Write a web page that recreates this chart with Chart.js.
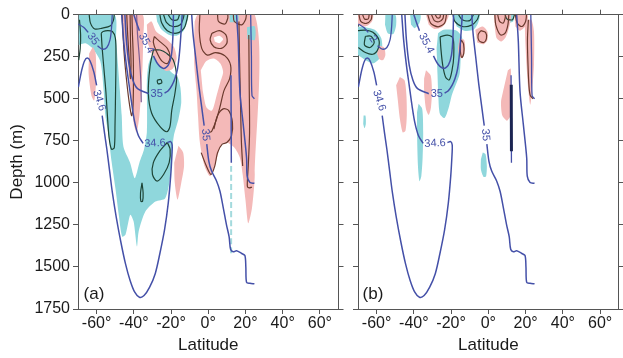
<!DOCTYPE html>
<html><head><meta charset="utf-8">
<script src="https://cdn.jsdelivr.net/npm/chart.js@4.4.1/dist/chart.umd.min.js"></script>
<style>
html,body{margin:0;padding:0;background:#fff;}
#wrap{position:relative;width:623px;height:358px;overflow:hidden;background:#fff;}
#ca{position:absolute;left:0;top:0;width:345px;height:358px;}
#cb{position:absolute;left:345px;top:0;width:278px;height:358px;}
</style></head><body>
<div id="wrap"><canvas id="ca" width="345" height="358"></canvas><canvas id="cb" width="278" height="358"></canvas></div>
<script>
// ---------- axes ----------
const X_TICKS = [-60, -40, -20, 0, 20, 40, 60];
const Y_TICKS = [0, 250, 500, 750, 1000, 1250, 1500, 1750];

// ---------- mean salinity contours (shared by both panels): [latitude, depth] ----------
const BLUE_346 = [[-69.8,430],[-68,330],[-66.5,275],[-65,258],[-63.5,275],[-61.5,340],[-60,420], null,
  [-57,600],[-55.8,700],[-54.5,800],[-53,930],[-51.5,1060],[-49.5,1200],[-47,1350],[-44.5,1480],[-42,1580],[-39.5,1650],[-37,1680],[-34.5,1670],[-31.5,1620],[-28.5,1540],[-26,1420],[-23.5,1280],[-21.5,1120],[-20.2,960],[-19.5,830],[-19.4,775],[-20.2,755],[-22,760], null,
  [-35,765],[-37.5,720],[-39.5,640],[-41,540],[-42.5,420],[-44,300],[-45.5,150],[-46.5,0]];
const BLUE_35L = [[-44.8,0],[-44,150],[-42.5,300],[-40.5,390],[-38,440],[-32,470], null,
  [-23.5,466],[-21.5,452],[-19.5,420],[-17.9,380],[-16.5,320],[-15.4,220],[-14.6,100],[-14,0]];
const BLUE_354 = [[-40,0],[-38.8,40],[-37,95], null,
  [-29.5,245],[-27,295],[-24,320],[-21.5,300],[-19.8,240],[-19,130],[-18.7,0]];
const BLUE_352 = [[-69.8,55],[-67,75],[-64.5,105], null,
  [-59.5,185],[-57,205],[-54.5,195],[-52.8,150],[-52,80],[-51.6,0]];
const BLUE_35R = [[-8.9,0],[-8.2,111],[-6.8,250],[-5.2,408],[-3.4,560],[-2.2,660], null,
  [-0.8,770],[0.3,870],[1.8,930],[4.5,990],[6.3,1050],[8.1,1150],[9.8,1250],[11.2,1320],[12,1395],[13.4,1410],[15.2,1404],[18,1420],[19.7,1432],[20.2,1500],[20.6,1592],[22.4,1597],[24.8,1600]];
const BLUE_20 = [[15.2,0],[16.1,160],[17,456],[18.8,654],[20.6,852],[20.9,960],[22.4,998],[24.8,1002]];
const BLUE_23 = [[22.8,0],[23.2,250],[23.5,480],[24.8,500]];
const BLUE_12 = [[12.2,360],[12.3,600],[12.4,880]];

// ---------- panel (a) anomaly patches ----------
const A_CYAN_MAIN = [[-69.6,0],[-50.5,0],[-49.5,150],[-48.5,300],[-47.5,450],[-46.5,600],[-45.6,784],[-42,880],[-39.5,972],[-37,880],[-34.5,800],[-33,700],[-32.9,550],[-33,400],[-32.2,300],[-30.5,250],[-27.5,245],[-24,290],[-20,340],[-16.5,370],[-15,430],[-14.5,520],[-16,620],[-18.5,720],[-19.5,834],[-20.4,960],[-23.1,1091],[-28.4,1111],[-33.8,1170],[-37.4,1289],[-38.3,1378],[-40.1,1230],[-41.9,1190],[-44.5,1309],[-46.3,1319],[-48.1,1190],[-49.9,1032],[-52,870],[-53.8,700],[-55.3,600],[-56.2,455],[-58,277],[-62.4,198],[-66,170],[-69.6,180]];
const A_PINK_STRIP = [[-46.3,0],[-35.3,0],[-35,150],[-35.3,300],[-36,450],[-37,600],[-38.5,700],[-40,650],[-41.3,500],[-43,320],[-45,160]];
const A_PINK_BLOB = [[-33,60],[-30.5,40],[-28,100],[-23,140],[-18.5,190],[-17,260],[-19,320],[-22.5,335],[-26.5,300],[-30,240],[-32.5,170]];
const A_PINK_LEFT = [[-62,190],[-60.5,230],[-60.3,400],[-61.3,510],[-62.8,480],[-64.3,350],[-64,230]];
const A_PINK_RIGHT = [[-7.3,40],[-5.5,0],[25,0],[25,950],[23.5,1150],[21.5,1240],[20,1100],[18.5,950],[17,850],[14,790],[10,760],[7,770],[4,880],[1,960],[-2,900],[-4.5,760],[-5.5,600],[-6.3,450],[-7.5,300],[-7.6,150]];
const A_PINK_SMALL = [[-16,780],[-13.5,820],[-13,900],[-14.5,1000],[-16.5,1100],[-18,1000],[-18.3,880]];
const A_CYAN_TOP = [[-28,0],[-11,0],[-11.5,50],[-13.5,100],[-17,125],[-21,120],[-25,90],[-27.5,40]];
const A_CYAN_BIT1 = [[11.5,0],[16,0],[16,40],[11.5,45]];
const A_CYAN_BIT2 = [[20.8,75],[25,70],[25,150],[21,145]];
const A_WHITE_1 = [[-4,330],[-1,275],[3,260],[6.5,290],[8,340],[6.5,400],[4.5,480],[2,570],[-1,550],[-3,450]];
const A_WHITE_2 = [[3,135],[6,125],[8,145],[6,170],[3.5,160]];
const A_DASH = [[12.3,900],[12.3,1430]];

// panel (a) anomaly contour lines
const G_A1 = [[-57.5,110],[-57,200],[-56,330],[-55,460],[-54.2,600],[-53.3,730],[-52,800],[-50.5,790],[-50.1,650],[-49.8,450],[-49.6,260],[-49.9,140],[-51.5,100],[-54,95],[-56.5,100],[-57.5,110]];
const G_A2 = [[-69.2,30],[-68.6,120],[-68.8,200],[-69.6,270]];
const G_A3 = [[-64,0],[-63.3,50],[-61,85],[-57,80],[-52.5,65],[-51,35],[-50.5,0]];
const G_A4 = [[-29.5,210],[-31.3,309],[-32.2,467],[-30.4,586],[-25.9,666],[-22.3,696],[-20.6,666],[-19.6,567],[-17.9,467],[-17,369],[-18.8,269],[-22.3,230],[-25.9,210],[-29.5,210]];
const G_A5 = [[-22,760],[-20.5,800],[-21,880],[-24,950],[-27.5,990],[-30,950],[-29.5,880],[-26,810],[-22,760]];
const G_A6 = [[-35.6,1000],[-35,1060],[-35.3,1110],[-36.2,1110],[-36.4,1060],[-35.6,1000]];
const G_A7 = [[-27.5,390],[-25.5,385],[-25,405],[-27,410],[-27.5,390]];
const G_A8 = [[-26,0],[-25,50],[-22,95],[-17,110],[-13,80],[-11.5,30],[-11,0]];
const G_A9 = [[-24,0],[-22.5,45],[-19,70],[-15,60],[-13.5,25],[-13,0]];
const G_A10 = [[-21.5,0],[-19.5,30],[-16.5,30],[-15.5,0]];
const BR_A1 = [[-46.3,0],[-45.8,120],[-45,260],[-43.8,400],[-42.5,520],[-41.2,600],[-40.5,560],[-40.2,420],[-40.3,250],[-40.8,100],[-41,0]];
const BR_A2 = [[-43.8,0],[-43.3,120],[-42.5,260],[-41.8,380],[-41.5,300],[-41.8,150],[-42,0]];
const PU_A1 = [[-38.5,0],[-38,120],[-37,260],[-36.2,400],[-36,520]];
const BR_A3 = [[-29,130],[-26,160],[-22,200],[-20.5,250],[-22,290],[-25,275],[-28,215],[-29.5,165],[-29,130]];
const BR_A4 = [[2,110],[6,95],[9.5,120],[10,170],[7,200],[3,190],[1,150],[2,110]];
const BR_A5 = [[-4.5,0],[-4.8,100],[-3.5,200],[-0.5,240],[4,225],[9,245],[12,300],[11.5,380],[8.5,450],[6.5,540],[4.5,620],[2,690],[1,700]];
const BR_A6 = [[-3.8,820],[-1,900],[1.5,950],[3.5,900],[5,820],[7.5,770],[10,760],[12.5,720],[13,640],[11,570],[8,560],[5,600],[3,680]];
const BR_A7 = [[16.5,40],[16.8,250],[17.3,500],[17.8,750],[18.5,900]];
const BR_A8 = [[21.8,120],[22,400],[22.2,700],[21.5,900],[21,1020],[22,1030],[23.5,1025]];
const BR_A9 = [[13.5,0],[14,40],[18,60],[20,30],[20.5,0]];
const BR_A10 = [[5,0],[5.5,40],[9,55],[10.5,20],[10.5,0]];

// ---------- panel (b) anomaly patches ----------
const B_CYAN_1 = [[-70,70],[-66,75],[-61,90],[-57.5,140],[-57,200],[-58.5,260],[-62,290],[-66,270],[-70,240]];
const B_CYAN_2 = [[-55.3,0],[-50,0],[-49.5,60],[-51,115],[-54,110],[-55.5,60]];
const B_CYAN_3 = [[-42,0],[-36.5,0],[-37,50],[-39.5,80],[-41.5,60]];
const B_CYAN_4 = [[-27,110],[-24,90],[-17,95],[-14,140],[-14.8,250],[-15.5,356],[-19.5,475],[-21.3,554],[-23.5,614],[-26,590],[-26.8,500],[-27.3,356],[-27.8,200]];
const B_CYAN_5 = [[-37.5,530],[-35.5,560],[-35,700],[-35.3,850],[-36,960],[-37,990],[-37.8,900],[-38.3,700],[-38.3,580]];
const B_CYAN_6 = [[-3,820],[-1.5,830],[-0.8,900],[-1.2,960],[-2.5,965],[-4,920],[-4,860]];
const B_CYAN_7 = [[-19,0],[-5,0],[-5.5,50],[-8,90],[-13,95],[-17,70]];
const B_CYAN_8 = [[-67,600],[-66,600],[-65.8,650],[-66.5,675],[-67.2,650]];
const B_CYAN_9 = [[10,0],[13.5,0],[13.3,40],[10.5,50]];
const B_PINK_1 = [[-70,0],[-62,0],[-62.5,40],[-65,65],[-68,70],[-70,55]];
const B_PINK_2 = [[-58.5,185],[-56,195],[-55.3,240],[-56.5,270],[-58.5,265],[-59.8,230]];
const B_PINK_3 = [[-47.5,370],[-45,390],[-44,480],[-43.8,600],[-44.5,690],[-46,700],[-47.5,620],[-48.7,500],[-49.5,420]];
const B_PINK_4 = [[-33.5,330],[-31,360],[-30.3,450],[-30.8,550],[-32,595],[-33.5,560],[-34.5,450],[-34.5,380]];
const B_PINK_5 = [[-33.5,0],[-21.5,0],[-22.5,40],[-25,75],[-29,85],[-32,60]];
const B_PINK_6 = [[-15.5,140],[-13,150],[-12.5,200],[-13.5,250],[-15.5,255],[-16.3,200]];
const B_PINK_7 = [[-7,90],[-3,70],[-0.5,100],[-0.5,150],[-2.5,175],[-6,165]];
const B_PINK_8 = [[3,0],[12,0],[11.5,60],[9.5,130],[7,160],[4.5,140],[3.5,80]];
const B_PINK_9 = [[10.5,330],[12,320],[12.2,450],[11.9,600],[10,630],[7.5,600],[6.8,520],[8,450]];
const B_PINK_10 = [[19.5,40],[23,30],[24.5,100],[24.5,300],[23.5,450],[22.5,535],[21.5,450],[20.5,300],[19.8,150]];
const B_PINK_11 = [[14,0],[21,0],[20.5,60],[17,95],[14.5,70]];

// panel (b) anomaly contour lines
const G_B1 = [[-70,95],[-66,92],[-62,105],[-58.8,150],[-59.3,205],[-62,235],[-66,225],[-69.8,195]];
const G_B2 = [[-66,128],[-63,128],[-61.3,165],[-63.5,195],[-66.5,180],[-66,128]];
const G_B3 = [[-25.9,131],[-22,122],[-19,140],[-18.6,250],[-19.5,330],[-21,388],[-23,370],[-24.5,300],[-25.5,200],[-25.9,131]];
const G_B4 = [[-19,0],[-18,40],[-14,70],[-9,62],[-6,30],[-5,0]];
const G_B5 = [[-16,0],[-14,30],[-10,35],[-8,0]];
const G_B6 = [[9,0],[10,25],[13,30],[14,0]];
const BR_B1 = [[-69.5,0],[-68.5,40],[-65.5,52],[-63,30],[-62.5,0]];
const BR_B2 = [[-67.5,0],[-66.5,25],[-64.5,25],[-64,0]];
const BR_B3 = [[-32.5,0],[-31,50],[-27,72],[-23.5,50],[-22.5,0]];
const BR_B4 = [[-30.5,0],[-29,35],[-26.5,42],[-24.5,25],[-24,0]];
const BR_B5 = [[-28.5,0],[-27.5,18],[-26,16],[-25.8,0]];
const BR_B6 = [[-14.5,150],[-13.3,175],[-13.2,230],[-14.2,255],[-15,220],[-15,170],[-14.5,150]];
const BR_B7 = [[-4,95],[-1.5,105],[-1,140],[-2.5,165],[-5,155],[-5.5,120],[-4,95]];
const BR_B8 = [[3.5,0],[4,60],[6.5,120],[9,110],[10.5,60],[11,0]];
const BR_B9 = [[5,0],[6,40],[8,50],[9,20],[9.2,0]];
const BR_B10 = [[21.5,30],[21,150],[21.3,300],[21.8,420],[22.5,480],[24,500]];
const BR_B11 = [[14.5,0],[15.5,50],[18,70],[20,40],[20.5,0]];
const DK_B = [[12.3,416],[12.4,812]];

// contour labels: [text, latitude, depth, rotation deg]
const LABELS_A = [['34.6',-58.6,510,72],['34.6',-28.6,765,-3],['35',-27.7,470,0],['35.4',-33.3,170,62],['35',-1.5,715,85],['35',-62,145,55]];
const LABELS_B = [['34.6',-58.6,510,72],['34.6',-28.6,765,-3],['35',-27.7,470,0],['35.4',-33.3,170,62],['35',-1.5,715,85],['2',-62,145,55]];

// ---------- styling ----------
const FONT = '"Liberation Sans", Arial, Helvetica, sans-serif';
const CYAN = '#8fd7dc', PINK = '#f4b9b8', BLUE = '#4450a8', GREEN = '#1d4436', BROWN = '#6b3a2e', PURPLE = '#7c5c92';
const AXIS = '#555555', TXT = '#1a1a1a';

function splitSeg(a){const out=[];let cur=[];for(const p of a){if(p===null){if(cur.length)out.push(cur);cur=[];}else cur.push(p);}if(cur.length)out.push(cur);return out;}
function pts(a){return a.map(p=>({x:p[0],y:p[1]}));}
function buildDatasets(layers){
  const ds=[];
  for(const L of layers){
    if(L[0]==='fill'){
      ds.push({data:pts(L[1]),fill:'shape',backgroundColor:L[2],borderColor:'rgba(0,0,0,0)',borderWidth:0,pointRadius:0,tension:0.25});
    } else {
      for(const seg of splitSeg(L[1])) ds.push({data:pts(seg),fill:false,borderColor:L[2],borderWidth:L[3]||1.2,borderDash:L[4]||[],pointRadius:0,tension:0.3});
    }
  }
  ds.forEach((d,i)=>{d.order=ds.length-i;});
  return ds;
}
function labelPlugin(items, tag, tagDx){
  return {id:'contourLabels',afterDatasetsDraw(chart){
    const ctx=chart.ctx,xs=chart.scales.x,ys=chart.scales.y,a=chart.chartArea;
    ctx.save();
    ctx.beginPath();ctx.rect(a.left,a.top,a.right-a.left,a.bottom-a.top);ctx.clip();
    ctx.fillStyle=BLUE;ctx.font='11px '+FONT;ctx.textAlign='center';ctx.textBaseline='middle';
    for(const [t,lat,dep,rot] of items){
      ctx.save();ctx.translate(xs.getPixelForValue(lat),ys.getPixelForValue(dep));ctx.rotate(rot*Math.PI/180);ctx.fillText(t,0,0);ctx.restore();
    }
    ctx.fillStyle=TXT;ctx.font='17px '+FONT;
    ctx.fillText(tag,a.left+tagDx,a.bottom-14.5);
    ctx.restore();
  }};
}
function setTicks(vals){return s=>{s.ticks=vals.map(v=>({value:v}));};}
function makeScales(o){
  const grid={display:true,drawOnChartArea:false,drawTicks:true,tickLength:5,color:AXIS,lineWidth:1};
  const border={display:true,color:AXIS,width:1};
  return {
    x:{type:'linear',axis:'x',position:'bottom',min:-70,max:70,afterBuildTicks:setTicks(X_TICKS),afterFit:s=>{s.height=49;},
      ticks:{display:true,autoSkip:false,maxRotation:0,padding:0,color:TXT,font:{family:FONT,size:16},callback:v=>v+'°'},
      grid:grid,border:border,
      title:{display:true,text:'Latitude',color:TXT,font:{family:FONT,size:17},padding:{top:0,bottom:2}}},
    x2:{type:'linear',axis:'x',position:'top',min:-70,max:70,afterBuildTicks:setTicks(X_TICKS),afterFit:s=>{s.height=14.7;},
      ticks:{display:false},grid:grid,border:border},
    y:{type:'linear',axis:'y',position:'left',reverse:true,min:0,max:1750,afterBuildTicks:setTicks(Y_TICKS),afterFit:s=>{s.width=o.leftW;},
      ticks:{display:o.yLabels,padding:3,color:TXT,font:{family:FONT,size:16},callback:v=>String(v)},
      grid:grid,border:border,
      title:{display:o.yLabels,text:'Depth (m)',color:TXT,font:{family:FONT,size:17},padding:{top:7,bottom:0}}},
    y2:{type:'linear',axis:'y',position:'right',reverse:true,min:0,max:1750,afterBuildTicks:setTicks(Y_TICKS),afterFit:s=>{s.width=o.rightW;},
      ticks:{display:false},grid:grid,border:border}
  };
}
function makeChart(id, layers, labels, tag, tagDx, o){
  return new Chart(document.getElementById(id),{
    type:'line',
    data:{datasets:buildDatasets(layers)},
    options:{responsive:false,animation:false,devicePixelRatio:1,events:[],
      layout:{padding:0},
      plugins:{legend:{display:false},tooltip:{enabled:false}},
      scales:makeScales(o)},
    plugins:[labelPlugin(labels,tag,tagDx)]
  });
}
const SHARED_BLUE = [['line',BLUE_346,BLUE,1.5],['line',BLUE_35L,BLUE,1.5],['line',BLUE_354,BLUE,1.5],['line',BLUE_352,BLUE,1.3],['line',BLUE_35R,BLUE,1.5],['line',BLUE_20,BLUE,1.5],['line',BLUE_23,BLUE,1.3]];

const LAYERS_A = [
  ['fill',A_CYAN_MAIN,CYAN],['fill',A_PINK_STRIP,PINK],['fill',A_PINK_BLOB,PINK],['fill',A_PINK_LEFT,PINK],
  ['fill',A_PINK_RIGHT,PINK],['fill',A_PINK_SMALL,PINK],['fill',A_CYAN_TOP,CYAN],['fill',A_CYAN_BIT1,CYAN],['fill',A_CYAN_BIT2,CYAN],
  ['fill',A_WHITE_1,'#ffffff'],['fill',A_WHITE_2,'#ffffff'],
  ['line',A_DASH,'#a3dadd',2,[6,3]],
  ['line',G_A1,GREEN],['line',G_A2,GREEN],['line',G_A3,GREEN],['line',G_A4,GREEN],['line',G_A5,GREEN],['line',G_A6,GREEN],['line',G_A7,GREEN],
  ['line',G_A8,GREEN],['line',G_A9,GREEN],['line',G_A10,GREEN],
  ['line',BR_A1,BROWN],['line',BR_A2,BROWN],['line',PU_A1,PURPLE],['line',BR_A3,BROWN],['line',BR_A4,BROWN],['line',BR_A5,BROWN],
  ['line',BR_A6,BROWN],['line',BR_A7,BROWN],['line',BR_A8,BROWN],['line',BR_A9,BROWN],['line',BR_A10,BROWN],
  ...SHARED_BLUE,['line',BLUE_12,BLUE,1.5]
];
const LAYERS_B = [
  ['fill',B_CYAN_1,CYAN],['fill',B_CYAN_2,CYAN],['fill',B_CYAN_3,CYAN],['fill',B_CYAN_4,CYAN],['fill',B_CYAN_5,CYAN],
  ['fill',B_CYAN_6,CYAN],['fill',B_CYAN_7,CYAN],['fill',B_CYAN_8,CYAN],['fill',B_CYAN_9,CYAN],
  ['fill',B_PINK_1,PINK],['fill',B_PINK_2,PINK],['fill',B_PINK_3,PINK],['fill',B_PINK_4,PINK],['fill',B_PINK_5,PINK],
  ['fill',B_PINK_6,PINK],['fill',B_PINK_7,PINK],['fill',B_PINK_8,PINK],['fill',B_PINK_9,PINK],['fill',B_PINK_10,PINK],['fill',B_PINK_11,PINK],
  ['line',G_B1,GREEN],['line',G_B2,GREEN],['line',G_B3,GREEN],['line',G_B4,GREEN],['line',G_B5,GREEN],['line',G_B6,GREEN],
  ['line',BR_B1,BROWN],['line',BR_B2,BROWN],['line',BR_B3,BROWN],['line',BR_B4,BROWN],['line',BR_B5,BROWN],['line',BR_B6,BROWN],
  ['line',BR_B7,BROWN],['line',BR_B8,BROWN],['line',BR_B9,BROWN],['line',BR_B10,BROWN],['line',BR_B11,BROWN],
  ...SHARED_BLUE,['line',BLUE_12,BLUE,1.3],['line',DK_B,'#1b2452',3]
];

makeChart('ca',LAYERS_A,LABELS_A,'(a)',16,{leftW:78,rightW:6.5,yLabels:true});
makeChart('cb',LAYERS_B,LABELS_B,'(b)',15,{leftW:13,rightW:4.3,yLabels:false});
</script></body></html>
